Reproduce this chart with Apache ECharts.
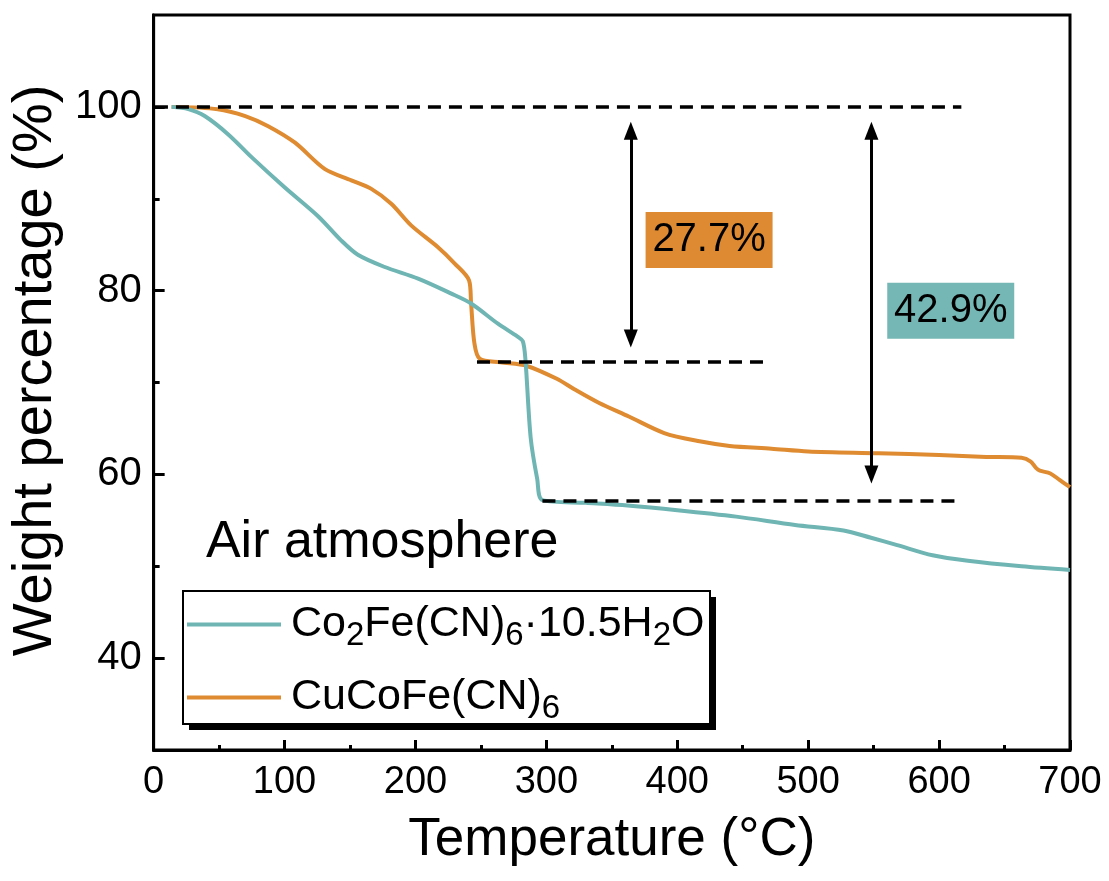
<!DOCTYPE html>
<html>
<head>
<meta charset="utf-8">
<script src="https://cdn.jsdelivr.net/npm/echarts@6/dist/echarts.min.js"></script>
<style>
  html, body { margin: 0; padding: 0; background: #fff; }
  #main { width: 1109px; height: 881px; }
</style>
</head>
<body>
<div id="main"></div>
<script>
// 数据：温度 (°C) 与失重 (%)
var tempCo = [13.7, 26.5, 39, 57, 75, 100, 125.6, 143, 156, 176, 202, 227, 242.5, 263, 278, 282, 284, 288, 293, 297, 330, 362, 400, 445, 490, 527, 548, 568, 595, 622, 663, 700];
var wtCo = [100, 99.75, 99.0, 97.0, 94.5, 91.25, 88.1, 85.5, 83.9, 82.6, 81.3, 79.7, 78.6, 76.4, 75.0, 74.5, 72.5, 64, 59.5, 57.2, 56.9, 56.6, 56.1, 55.4, 54.5, 53.9, 53.1, 52.3, 51.2, 50.6, 50.0, 49.6];

var tempCu = [13.7, 49, 70, 87.5, 108, 130.6, 151, 166, 181.5, 196.7, 217, 230, 241, 242.5, 245, 249, 265, 285, 308, 321, 340, 363, 390, 417, 440, 472, 500, 554, 600, 636, 663, 670, 674, 677, 685, 692, 700];
var wtCu = [100, 99.75, 99.0, 97.9, 96.1, 93.25, 92.0, 91.1, 89.45, 87.1, 84.75, 82.95, 81.1, 78.6, 74.3, 72.6, 72.2, 71.8, 70.4, 69.3, 67.8, 66.3, 64.5, 63.6, 63.1, 62.8, 62.5, 62.3, 62.1, 61.9, 61.8, 61.4, 60.7, 60.4, 60.1, 59.4, 58.6];

var seriesNames = ['Co2Fe(CN)6·10.5H2O', 'CuCoFe(CN)6'];
var yTicks = [40, 60, 80, 100];
var yMinorTicks = [50, 70, 90];

// 失重标注
var lossLevels = [72.3, 57.1];        // 27.7% 与 42.9%
var lossLabels = ['27.7%', '42.9%'];

var colorCo = '#6fb5b3';
var colorCu = '#de8b31';

function zip(a, b) {
    var out = [];
    for (var i = 0; i < a.length; i++) out.push([a[i], b[i]]);
    return out;
}

var myChart = echarts.init(document.getElementById('main'));
var font = "'Liberation Sans', Arial, sans-serif";

var dashStyle = { color: '#000', width: 3.5, type: [13, 8] };
var arrowStyle = { color: '#000', width: 3, type: 'solid' };
var arrowEnd = { symbol: 'triangle', symbolSize: [14, 18] };

var option = {
    animation: false,
    grid: {
        left: 152, right: 39, top: 15, bottom: 131,
        show: true, borderColor: '#000', borderWidth: 3
    },
    // 图例外框（带黑色阴影）
    graphic: [
        { type: 'rect', z: 3, shape: { x: 189, y: 597, width: 527, height: 133 }, style: { fill: '#000' } },
        { type: 'rect', z: 3, shape: { x: 183, y: 591, width: 527, height: 133 }, style: { fill: '#fff', stroke: '#000', lineWidth: 2 } }
    ],
    legend: {
        orient: 'vertical',
        left: 187, top: 597,
        padding: 0,
        icon: 'rect',
        itemWidth: 94, itemHeight: 4, itemGap: 18,
        data: seriesNames,
        formatter: function (name) {
            if (name === seriesNames[0]) {
                return '{n|Co}{s|2}{n|Fe(CN)}{s|6}{n|·10.5H}{s|2}{n|O}';
            }
            return '{n|CuCoFe(CN)}{s|6}';
        },
        textStyle: {
            padding: [0, 0, 0, 5],
            rich: {
                n: { fontFamily: font, fontSize: 43, color: '#000', lineHeight: 46 },
                s: { fontFamily: font, fontSize: 33, color: '#000', lineHeight: 46, padding: [22, 0, 0, 0] }
            }
        }
    },
    xAxis: {
        type: 'value',
        min: 0, max: 700, interval: 100,
        name: 'Temperature (°C)',
        nameLocation: 'middle', nameGap: 64,
        nameTextStyle: { fontFamily: font, fontSize: 53, color: '#000' },
        axisLine: { show: true, lineStyle: { color: '#000', width: 3 } },
        axisTick: { inside: true, length: 10, lineStyle: { width: 3, color: '#000' } },
        minorTick: { show: true, splitNumber: 2, length: 5, lineStyle: { width: 3, color: '#000' } },
        axisLabel: { margin: 14, fontFamily: font, fontSize: 38, color: '#000' },
        splitLine: { show: false }
    },
    yAxis: [{
        type: 'value',
        min: 30, max: 110, interval: 10,
        name: 'Weight percentage (%)',
        nameLocation: 'middle', nameGap: 72,
        nameTextStyle: { fontFamily: font, fontSize: 56, color: '#000', padding: [0, 0, 0, 24] },
        axisLine: { show: true, lineStyle: { color: '#000', width: 3 } },
        axisTick: { inside: true, length: 11, customValues: yTicks, lineStyle: { width: 3, color: '#000' } },
        axisLabel: { margin: 12, fontFamily: font, fontSize: 40, color: '#000', customValues: yTicks },
        splitLine: { show: false }
    }, {
        type: 'value',
        position: 'left',
        min: 30, max: 110, interval: 10,
        axisLine: { show: false },
        axisTick: { show: true, inside: true, length: 6, customValues: yMinorTicks, lineStyle: { width: 3, color: '#000' } },
        axisLabel: { show: false },
        splitLine: { show: false }
    }],
    series: [{
        name: seriesNames[0],
        type: 'line',
        symbol: 'none',
        smooth: 0.3,
        data: zip(tempCo, wtCo),
        lineStyle: { color: colorCo, width: 4 },
        itemStyle: { color: colorCo },
        z: 3,
        markLine: {
            silent: true,
            symbol: ['none', 'none'],
            label: { show: false },
            data: [
                [{ coord: [1, 100], lineStyle: dashStyle }, { coord: [617, 100] }],
                [{ coord: [247, lossLevels[0]], lineStyle: dashStyle }, { coord: [467, lossLevels[0]] }],
                [{ coord: [297, lossLevels[1]], lineStyle: dashStyle }, { coord: [617, lossLevels[1]] }],
                [Object.assign({ coord: [364.5, 97.4], lineStyle: arrowStyle }, arrowEnd),
                 Object.assign({ coord: [364.5, 74.8] }, arrowEnd)],
                [Object.assign({ coord: [548.3, 97.4], lineStyle: arrowStyle }, arrowEnd),
                 Object.assign({ coord: [548.3, 60.0] }, arrowEnd)]
            ]
        },
        markPoint: {
            silent: true,
            data: [
                {
                    coord: [424.3, 85.5], symbol: 'rect', symbolSize: [127, 56],
                    itemStyle: { color: '#dd8a33' },
                    label: { show: true, formatter: lossLabels[0], fontFamily: font, fontSize: 40, color: '#000' }
                },
                {
                    coord: [608.9, 77.8], symbol: 'rect', symbolSize: [127, 56],
                    itemStyle: { color: '#74b7b5' },
                    label: { show: true, formatter: lossLabels[1], fontFamily: font, fontSize: 40, color: '#000' }
                },
                {
                    coord: [174.6, 52.6], symbol: 'rect', symbolSize: 1,
                    itemStyle: { color: 'rgba(0,0,0,0)' },
                    label: { show: true, formatter: 'Air atmosphere', fontFamily: font, fontSize: 52, color: '#000' }
                }
            ]
        }
    }, {
        name: seriesNames[1],
        type: 'line',
        symbol: 'none',
        smooth: 0.3,
        data: zip(tempCu, wtCu),
        lineStyle: { color: colorCu, width: 4 },
        itemStyle: { color: colorCu },
        z: 2
    }]
};

myChart.setOption(option);
</script>
</body>
</html>
